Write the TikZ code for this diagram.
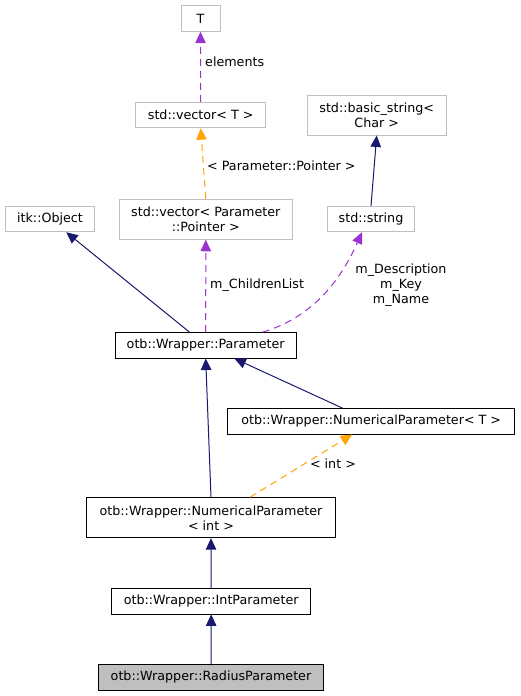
\documentclass[tikz,border=0pt]{standalone}
\usepackage{fontspec}
\setmainfont{DejaVu Sans}
\usetikzlibrary{arrows.meta}
\begin{document}
\begin{tikzpicture}[x=1pt, y=-1pt,
    font=\fontsize{12.7}{15}\selectfont,
    cls/.style={draw, line width=0.9pt, inner sep=0pt, minimum height=25.5pt, align=center},
    extcls/.style={cls, draw=box-gray},
    inherit/.style={line width=1pt, draw=edge-blue, -{Triangle[length=11.5pt,width=10.5pt,fill=edge-blue]}},
    usage/.style={line width=1pt, dash pattern=on 7pt off 5pt, draw=edge-purple, -{Triangle[length=11.5pt,width=10.5pt,fill=edge-purple]}},
    tmpl/.style={line width=1pt, dash pattern=on 7pt off 5pt, draw=edge-orange, -{Triangle[length=11.5pt,width=10.5pt,fill=edge-orange]}},
    lbl/.style={inner sep=0pt, align=center}]
    \definecolor{edge-blue}{HTML}{191970}
    \definecolor{edge-purple}{HTML}{9A32CD}
    \definecolor{edge-orange}{HTML}{FFA500}
    \definecolor{box-gray}{HTML}{BFBFBF}
    \useasboundingbox (0,0) rectangle (520,696);
    % external classes
    \node[extcls, minimum width=39pt]  (T)    at (200.5,18.5) {T};
    \node[extcls, minimum width=130pt] (vecT) at (200.7,115) {std::vector< T >};
    \node[extcls, minimum width=139pt, minimum height=40pt] (bstr) at (376.7,115) {std::basic\_string<\\Char >};
    \node[extcls, minimum width=86.6pt] (str)  at (371,219) {std::string};
    \node[extcls, minimum width=89.7pt] (itk)  at (50,219) {itk::Object};
    \node[extcls, minimum width=173pt, minimum height=40pt] (vecP) at (205.8,219.3) {std::vector< Parameter\\::Pointer >};
    % documented classes
    \node[cls, minimum width=180.7pt] (param)  at (205.7,345.3) {otb::Wrapper::Parameter};
    \node[cls, minimum width=287pt]   (numT)   at (371.2,421.3) {otb::Wrapper::NumericalParameter< T >};
    \node[cls, minimum width=248.6pt, minimum height=40pt] (numInt) at (211,517.7) {otb::Wrapper::NumericalParameter\\< int >};
    \node[cls, minimum width=199pt]   (intP)   at (211.2,601.2) {otb::Wrapper::IntParameter};
    \node[cls, minimum width=225.7pt, fill=box-gray] (radius) at (211,677.2) {otb::Wrapper::RadiusParameter};
    % connectors
    \draw[usage] (vecT.north) -- (T.south);
    \node[lbl, anchor=west] (lElements) at (205,62) {elements};
    \draw[tmpl] (vecP.north) -- (vecT.south);
    \node[lbl, anchor=west] (lPointer) at (207,166) {< Parameter::Pointer >};
    \draw[inherit] (str.north) -- (bstr.south);
    \draw[inherit] (param) -- (itk);
    \draw[usage] (param.north) -- (vecP.south);
    \node[lbl, anchor=west] (lChildren) at (210,285) {m\_ChildrenList};
    \draw[usage] ([xshift=57pt]param.north) .. controls (320,315) and (345,270) .. ([xshift=-9pt]str.south);
    \node[lbl] (lMembers) at (401,285.5) {m\_Description\\m\_Key\\m\_Name};
    \draw[inherit] (numT) -- (param);
    \draw[inherit] (numInt.north) -- (param.south);
    \draw[tmpl] ([xshift=39pt]numInt.north) -- ([xshift=-19pt]numT.south);
    \node[lbl] (lInt) at (333,464) {< int >};
    \draw[inherit] (intP.north) -- (numInt.south);
    \draw[inherit] (radius.north) -- (intP.south);
\end{tikzpicture}
\end{document}
